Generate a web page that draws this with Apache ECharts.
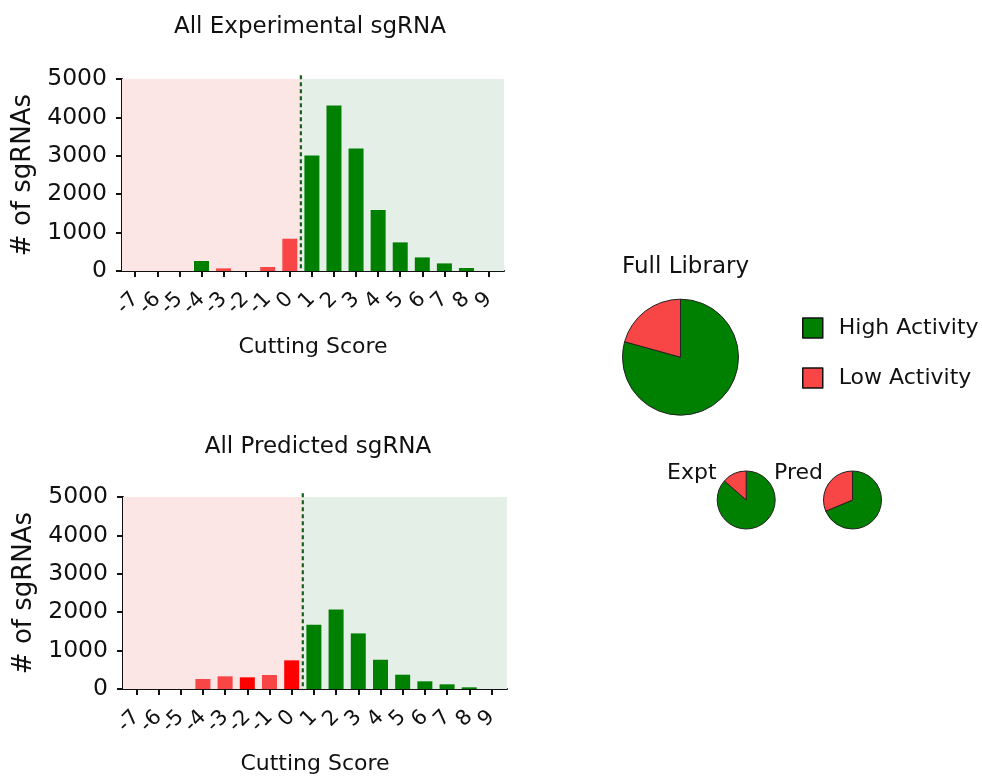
<!DOCTYPE html>
<html>
<head>
<meta charset="utf-8">
<script src="https://cdn.jsdelivr.net/npm/echarts@6/dist/echarts.min.js"></script>
<style>
  html, body { margin: 0; padding: 0; background: #ffffff; }
  #chart { width: 982px; height: 777px; }
</style>
</head>
<body>
<div id="chart"></div>
<script>
// Cutting-score bins (x axis ticks)
const scores = [-7, -6, -5, -4, -3, -2, -1, 0, 1, 2, 3, 4, 5, 6, 7, 8, 9];

// sgRNA counts per bin
const experimentalCounts = [0, 0, 0, 260, 68, 0, 104, 840, 3010, 4313, 3193, 1589, 745, 354, 198, 78, 0];
const predictedCounts = [0, 0, 0, 260, 330, 304, 364, 746, 1672, 2072, 1448, 762, 372, 200, 122, 44, 0];

// Activity class per bin: H = high, L = low, S = low (solid)
const experimentalClass = ['L', 'L', 'L', 'H', 'L', 'L', 'L', 'L', 'H', 'H', 'H', 'H', 'H', 'H', 'H', 'H', 'H'];
const predictedClass = ['L', 'L', 'L', 'L', 'L', 'S', 'L', 'S', 'H', 'H', 'H', 'H', 'H', 'H', 'H', 'H', 'H'];

// Activity cut-off between low and high
const cutoff = 0.5;

// Pie shares (%)
const activityNames = ['High Activity', 'Low Activity'];
const fullLibraryShare = [79.3, 20.7];
const experimentalShare = [86.4, 13.6];
const predictedShare = [68.7, 31.3];

const FONT = 'DejaVu Sans';
const INK = '#111111';
const classColor = { H: '#008000', L: '#f84545', S: '#ff0000' };
const sliceColor = ['#008000', '#f84545'];
const lowZone = '#fce5e5';
const highZone = '#e4efe8';

const X_MIN = -7.6, X_MAX = 9.7, Y_MIN = 0, Y_MAX = 5000;

// The axis ends carry blank labels so every integer score keeps its label
const labelValues = [X_MIN].concat(scores, [X_MAX]);

function barData(counts, classes) {
  return scores.map((s, i) => ({
    value: [s, counts[i]],
    itemStyle: { color: classColor[classes[i]] }
  }));
}

function zones() {
  return {
    silent: true,
    label: { show: false },
    data: [
      [{ xAxis: X_MIN, yAxis: -100, itemStyle: { color: lowZone } }, { xAxis: cutoff, yAxis: 5100 }],
      [{ xAxis: cutoff, yAxis: -100, itemStyle: { color: highZone } }, { xAxis: X_MAX, yAxis: 5100 }]
    ]
  };
}

// dashed cut-off marker drawn as a two-point line through the axes
function cutSeries(axisIndex) {
  return {
    type: 'line', xAxisIndex: axisIndex, yAxisIndex: axisIndex,
    silent: true, clip: false, z: 5, symbol: 'none',
    lineStyle: { color: '#15601a', type: [4, 3], width: 2.2 },
    data: [[cutoff, 5100], [cutoff, 0]]
  };
}

function xAxisFor(gridIndex, gap) {
  return {
    type: 'value', gridIndex, min: X_MIN, max: X_MAX,
    name: 'Cutting Score', nameLocation: 'middle', nameGap: gap,
    nameTextStyle: { fontFamily: FONT, fontSize: 22, color: INK },
    splitLine: { show: false },
    axisLine: { show: true, onZero: false, lineStyle: { color: INK, width: 2 } },
    axisTick: { show: true, customValues: scores, length: 6, lineStyle: { color: INK, width: 2 } },
    axisLabel: {
      customValues: labelValues, rotate: 45, margin: 25, showMinLabel: false, showMaxLabel: false,
      hideOverlap: false, fontFamily: FONT, fontSize: 21, color: INK,
      formatter: v => (Number.isInteger(v) ? String(v) : '')
    }
  };
}

function yAxisFor(gridIndex) {
  return {
    type: 'value', gridIndex, min: Y_MIN, max: Y_MAX, interval: 1000,
    name: '# of sgRNAs', nameLocation: 'middle', nameGap: 86,
    nameTextStyle: { fontFamily: FONT, fontSize: 26, color: INK },
    splitLine: { show: false },
    axisLine: { show: true, onZero: false, lineStyle: { color: INK, width: 2 } },
    axisTick: { show: true, length: 6, lineStyle: { color: INK, width: 2 } },
    axisLabel: { margin: 15, fontFamily: FONT, fontSize: 23.5, color: INK, formatter: v => String(v) }
  };
}

function pieSeries(center, radius, shares) {
  return {
    type: 'pie', center, radius, startAngle: 90, clockwise: true,
    label: { show: false }, labelLine: { show: false },
    emphasis: { disabled: true },
    itemStyle: { borderColor: '#222222', borderWidth: 1 },
    data: activityNames.map((n, i) => ({ name: n, value: shares[i], itemStyle: { color: sliceColor[i] } }))
  };
}

function label(text, x, y, size, align) {
  return {
    type: 'text', x, y, silent: true,
    style: { text, fontFamily: FONT, fontSize: size, fill: INK, align: align || 'left', verticalAlign: 'middle' }
  };
}

const chart = echarts.init(document.getElementById('chart'), null, { renderer: 'canvas' });

chart.setOption({
  animation: false,
  backgroundColor: '#ffffff',
  textStyle: { fontFamily: FONT },
  grid: [
    { left: 122, top: 79, width: 382, height: 192 },
    { left: 123, top: 497, width: 384, height: 192 }
  ],
  xAxis: [xAxisFor(0, 65), xAxisFor(1, 64)],
  yAxis: [yAxisFor(0), yAxisFor(1)],
  legend: {
    data: activityNames,
    orient: 'vertical',
    left: 802, top: 317,
    padding: 0,
    icon: 'rect',
    itemWidth: 20, itemHeight: 20, itemGap: 28,
    selectedMode: false,
    itemStyle: { borderColor: '#111111', borderWidth: 1.5 },
    textStyle: { fontFamily: FONT, fontSize: 22, color: INK, padding: [0, 0, 0, 11] }
  },
  graphic: [
    label('All Experimental sgRNA', 310, 27, 23, 'center'),
    label('All Predicted sgRNA', 318, 447, 23, 'center'),
    label('Full Library', 622, 267, 23),
    label('Expt', 667, 473, 22),
    label('Pred', 774, 473, 22)
  ],
  series: [
    {
      type: 'bar', name: 'Experimental', xAxisIndex: 0, yAxisIndex: 0,
      barWidth: 15, clip: false,
      data: barData(experimentalCounts, experimentalClass),
      markArea: zones()
    },
    {
      type: 'bar', name: 'Predicted', xAxisIndex: 1, yAxisIndex: 1,
      barWidth: 15, clip: false,
      data: barData(predictedCounts, predictedClass),
      markArea: zones()
    },
    cutSeries(0),
    cutSeries(1),
    pieSeries([680.5, 357.2], 58, fullLibraryShare),
    pieSeries([746.2, 500], 29, experimentalShare),
    pieSeries([852.5, 500], 29, predictedShare)
  ]
});
</script>
</body>
</html>
